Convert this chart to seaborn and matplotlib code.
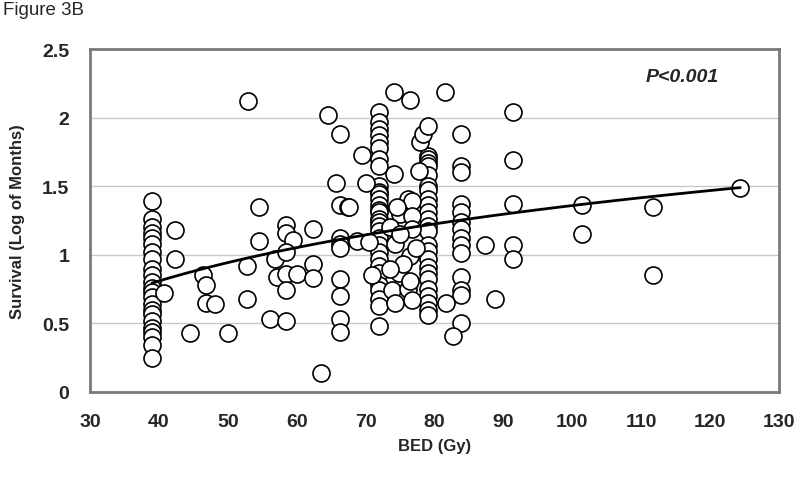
import matplotlib
matplotlib.use("Agg")
import matplotlib.pyplot as plt
import seaborn as sns
import numpy as np
import pandas as pd

# ---- data ----
col39_y = [1.39, 1.26, 1.20, 1.16, 1.12, 1.08, 1.02, 0.97, 0.90, 0.85, 0.80, 0.76,
           0.73, 0.69, 0.64, 0.60, 0.57, 0.52, 0.47, 0.44, 0.40, 0.34, 0.25]
col72_y = [2.04, 1.97, 1.92, 1.87, 1.82, 1.78, 1.70, 1.65, 1.50, 1.46, 1.44, 1.41,
           1.36, 1.33, 1.31, 1.26, 1.24, 1.21, 1.17, 1.12, 1.07, 1.02, 0.97, 0.92,
           0.87, 0.78, 0.74, 0.68, 0.63, 0.48]
col79_y = [1.72, 1.70, 1.67, 1.65, 1.58, 1.50, 1.47, 1.41, 1.36, 1.31, 1.26, 1.21,
           1.17, 1.07, 1.03, 0.97, 0.91, 0.87, 0.82, 0.75, 0.70, 0.65, 0.60, 0.56]
col84_y = [1.88, 1.65, 1.60, 1.37, 1.31, 1.24, 1.19, 1.12, 1.07, 1.01, 0.84, 0.74,
           0.71, 0.50]
col91_y = [2.04, 1.69, 1.37, 1.07, 0.97]

other_x = [42.4, 42.3, 40.8, 46.4, 46.8, 46.9, 48.1, 44.5, 50.0, 52.8, 52.8, 53.0,
           54.6, 54.6, 56.2, 58.4, 56.9, 57.2, 58.4, 58.4, 59.5, 58.4, 58.4, 58.4,
           60.1, 62.4, 62.4, 62.4, 63.5, 64.6, 66.3, 65.7, 66.3, 67.4, 66.3, 66.3,
           66.3, 66.3, 66.3, 66.3, 66.3,
           74.2, 76.5, 69.5, 70.1, 74.2, 67.6, 68.8, 70.5, 70.9, 74.3, 75.0, 76.2,
           74.8, 73.8, 74.3, 76.5, 76.2, 76.7, 76.7, 76.7, 76.7, 76.5, 77.8, 77.9,
           78.4, 79.1, 81.6, 81.7, 74.5, 73.5, 75.0, 77.3, 75.5, 73.5,
           82.7, 87.4, 88.8, 101.5, 101.5, 111.7, 111.7, 124.4]
other_y = [1.18, 0.97, 0.72, 0.85, 0.78, 0.65, 0.64, 0.43, 0.43, 0.92, 0.68, 2.12,
           1.35, 1.10, 0.53, 0.52, 0.97, 0.84, 1.22, 1.16, 1.11, 1.02, 0.86, 0.74,
           0.86, 1.19, 0.93, 0.83, 0.14, 2.02, 1.88, 1.52, 1.36, 1.35, 1.12, 1.08,
           1.05, 0.82, 0.70, 0.53, 0.44,
           2.19, 2.13, 1.73, 1.52, 1.59, 1.35, 1.10, 1.09, 0.85, 1.08, 1.30, 1.41,
           0.87, 0.74, 0.65, 0.99, 0.75, 0.67, 1.39, 1.28, 1.19, 0.81, 1.61, 1.82,
           1.88, 1.94, 2.19, 0.65, 1.35, 1.20, 1.15, 1.05, 0.93, 0.90,
           0.41, 1.07, 0.68, 1.36, 1.15, 1.35, 0.85, 1.49]

x_ticks = [30, 40, 50, 60, 70, 80, 90, 100, 110, 120, 130]
y_ticks = [0, 0.5, 1, 1.5, 2, 2.5]
y_tick_labels = ["0", "0.5", "1", "1.5", "2", "2.5"]

bed = ([39.0] * len(col39_y) + [72.0] * len(col72_y) + [79.0] * len(col79_y)
       + [83.8] * len(col84_y) + [91.4] * len(col91_y) + other_x)
surv = col39_y + col72_y + col79_y + col84_y + col91_y + other_y
df = pd.DataFrame({"BED": bed, "Survival": surv})

# ---- plot ----
sns.set_style("white")
plt.rcParams["font.family"] = ["Liberation Sans", "DejaVu Sans"]

fig = plt.figure(figsize=(8.0, 4.81), dpi=100)
ax = fig.add_axes([0.1125, 0.183, 0.861, 0.713])

for yv in y_ticks[1:-1]:
    ax.axhline(yv, color="#c8c8c8", lw=1.0, zorder=0)

sns.scatterplot(data=df, x="BED", y="Survival", ax=ax, s=150, marker="o",
                facecolor="white", edgecolor="black", linewidth=1.2, zorder=3,
                legend=False)
sns.regplot(data=df, x="BED", y="Survival", ax=ax, logx=True, ci=None,
            scatter=False, line_kws={"color": "black", "lw": 2.0, "zorder": 4})

ax.set_xlim(30, 130)
ax.set_ylim(0, 2.5)
ax.set_xticks(x_ticks)
ax.set_yticks(y_ticks)
ax.set_yticklabels(y_tick_labels)
ax.tick_params(axis="both", direction="out", length=6, width=1, color="#9a9a9a",
               labelsize=14, pad=9)
for lab in ax.get_xticklabels() + ax.get_yticklabels():
    lab.set_fontweight("bold")
for sp in ax.spines.values():
    sp.set_visible(True)
    sp.set_color("#7a7a7a")
    sp.set_linewidth(2.0)

ax.set_xlabel("BED (Gy)", fontsize=12, fontweight="bold", labelpad=6)
ax.set_ylabel("Survival (Log of Months)", fontsize=12, fontweight="bold", labelpad=12)

ax.text(116, 2.30, "P<0.001", fontsize=14, fontweight="bold", fontstyle="italic",
        ha="center", va="center")
fig.text(0.004, 0.995, "Figure 3B", fontsize=13.5, ha="left", va="top")

fig.savefig("out.png", dpi=100)
